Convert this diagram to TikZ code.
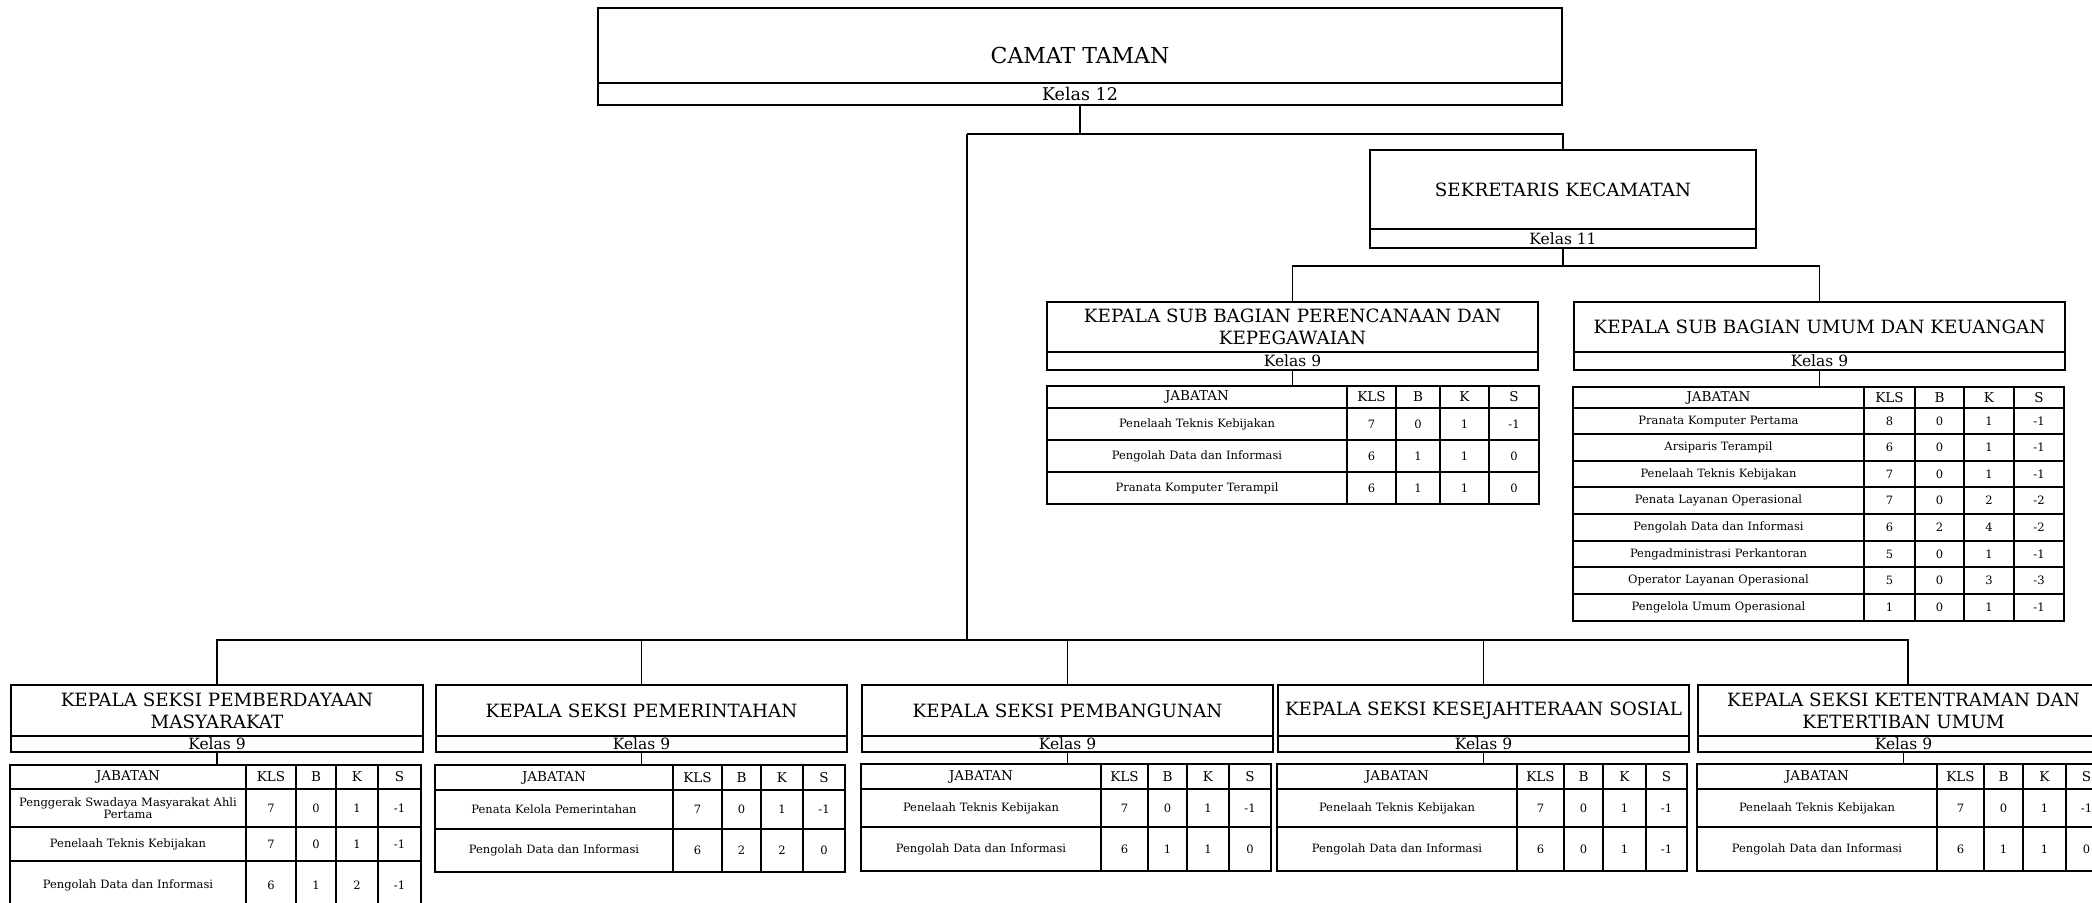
\documentclass[tikz,border=0pt]{standalone}
\usepackage{fontspec}
\setmainfont{DejaVu Serif}
\tikzset{
  titlebox/.style={draw, line width=1.4pt, inner sep=0pt, outer sep=0pt, align=center, font=\fontsize{18.3}{22}\selectfont},
  kelasbox/.style={draw, line width=1.4pt, inner sep=0pt, outer sep=0pt, font=\fontsize{15.5}{16}\selectfont},
  cell/.style={draw, line width=1.2pt, inner sep=0pt, outer sep=0pt, align=center, font=\fontsize{11.5}{12.5}\selectfont},
  conn/.style={line width=1.4pt},
}
\newcommand\hd{\fontsize{13.5}{14}\selectfont}
\newcommand\unitbox[8]{%
  \node[titlebox, minimum width={#3-#2}, minimum height={#5-#4}, anchor=north west] (#1) at (#2,#4) {#7};
  \node[kelasbox, minimum width={#3-#2}, minimum height={#6-#5}, anchor=north west] (#1-kls) at (#2,#5) {#8};
}
\newcommand\jtable[9]{%
  \foreach \yb/\vJ/\vL/\vB/\vK/\vS [count=\r, remember=\yb as \yt (initially #8)] in {#9}{%
    \pgfmathsetmacro\hh{\yb-\yt}%
    \pgfmathsetmacro\tw{#3-#2-6}%
    \node[cell, minimum width={#3-#2}, minimum height=\hh, text width=\tw pt, anchor=north west] (#1-\r-1) at (#2,\yt) {\vJ};
    \node[cell, minimum width={#4-#3}, minimum height=\hh, anchor=north west] (#1-\r-2) at (#3,\yt) {\vL};
    \node[cell, minimum width={#5-#4}, minimum height=\hh, anchor=north west] (#1-\r-3) at (#4,\yt) {\vB};
    \node[cell, minimum width={#6-#5}, minimum height=\hh, anchor=north west] (#1-\r-4) at (#5,\yt) {\vK};
    \node[cell, minimum width={#7-#6}, minimum height=\hh, anchor=north west] (#1-\r-5) at (#6,\yt) {\vS};
  }%
}
\begin{document}
\begin{tikzpicture}[x=1pt,y=-1pt]
\useasboundingbox (0,0) rectangle (2092,902);
\clip (0,0) rectangle (2092,902);
\fill[white] (0,0) rectangle (2092,902);

% CAMAT
\node[titlebox, font=\fontsize{22}{26}\selectfont, text height=35pt, text depth=0pt,
      minimum width=964, minimum height=75, anchor=north west] (camat) at (598,8) {CAMAT TAMAN};
\node[kelasbox, font=\fontsize{17.5}{18}\selectfont, minimum width=964, minimum height=22, anchor=north west] (camat-kls) at (598,83) {Kelas 12};

% Sekretaris and sub bagian
\unitbox{sekr}{1370}{1756}{150}{229}{248}{SEKRETARIS KECAMATAN}{Kelas 11}
\unitbox{sba}{1047}{1538}{302}{352}{370}{KEPALA SUB BAGIAN PERENCANAAN DAN\\KEPEGAWAIAN}{Kelas 9}
\unitbox{sbb}{1574}{2065}{302}{352}{370}{KEPALA SUB BAGIAN UMUM DAN KEUANGAN}{Kelas 9}

% Seksi
\unitbox{s1}{11}{423}{685}{736}{752}{KEPALA SEKSI PEMBERDAYAAN\\MASYARAKAT}{Kelas 9}
\unitbox{s2}{436}{847}{685}{736}{752}{KEPALA SEKSI PEMERINTAHAN}{Kelas 9}
\unitbox{s3}{862}{1273}{685}{736}{752}{KEPALA SEKSI PEMBANGUNAN}{Kelas 9}
\unitbox{s4}{1278}{1689}{685}{736}{752}{KEPALA SEKSI KESEJAHTERAAN SOSIAL}{Kelas 9}
\unitbox{s5}{1698}{2109}{685}{736}{752}{KEPALA SEKSI KETENTRAMAN DAN\\KETERTIBAN UMUM}{Kelas 9}

% Tables
\jtable{ta}{1047}{1347}{1396}{1440}{1489}{1539}{386}{%
  408/{\hd JABATAN}/{\hd KLS}/{\hd B}/{\hd K}/{\hd S},
  440/Penelaah Teknis Kebijakan/7/0/1/-1,
  472/Pengolah Data dan Informasi/6/1/1/0,
  504/Pranata Komputer Terampil/6/1/1/0}
\jtable{tb}{1573}{1864}{1915}{1964}{2014}{2064}{387}{%
  408/{\hd JABATAN}/{\hd KLS}/{\hd B}/{\hd K}/{\hd S},
  434/Pranata Komputer Pertama/8/0/1/-1,
  461/Arsiparis Terampil/6/0/1/-1,
  487/Penelaah Teknis Kebijakan/7/0/1/-1,
  514/Penata Layanan Operasional/7/0/2/-2,
  541/Pengolah Data dan Informasi/6/2/4/-2,
  567/Pengadministrasi Perkantoran/5/0/1/-1,
  594/Operator Layanan Operasional/5/0/3/-3,
  621/Pengelola Umum Operasional/1/0/1/-1}
\jtable{t1}{10}{246}{296}{336}{378}{421}{765}{%
  789/{\hd JABATAN}/{\hd KLS}/{\hd B}/{\hd K}/{\hd S},
  827/{Penggerak Swadaya Masyarakat Ahli\\Pertama}/7/0/1/-1,
  861/Penelaah Teknis Kebijakan/7/0/1/-1,
  909/Pengolah Data dan Informasi/6/1/2/-1}
\jtable{t2}{435}{673}{722}{761}{803}{845}{765}{%
  790/{\hd JABATAN}/{\hd KLS}/{\hd B}/{\hd K}/{\hd S},
  829/Penata Kelola Pemerintahan/7/0/1/-1,
  872/Pengolah Data dan Informasi/6/2/2/0}
\jtable{t3}{861}{1101}{1148}{1187}{1229}{1271}{764}{%
  789/{\hd JABATAN}/{\hd KLS}/{\hd B}/{\hd K}/{\hd S},
  827/Penelaah Teknis Kebijakan/7/0/1/-1,
  871/Pengolah Data dan Informasi/6/1/1/0}
\jtable{t4}{1277}{1517}{1564}{1603}{1646}{1687}{764}{%
  789/{\hd JABATAN}/{\hd KLS}/{\hd B}/{\hd K}/{\hd S},
  827/Penelaah Teknis Kebijakan/7/0/1/-1,
  871/Pengolah Data dan Informasi/6/0/1/-1}
\jtable{t5}{1697}{1937}{1984}{2023}{2066}{2107}{764}{%
  789/{\hd JABATAN}/{\hd KLS}/{\hd B}/{\hd K}/{\hd S},
  827/Penelaah Teknis Kebijakan/7/0/1/-1,
  871/Pengolah Data dan Informasi/6/1/1/0}

% Connectors
\coordinate (bus1) at (967,134);
\coordinate (bus2) at (967,640);
\coordinate (bus3) at (1563,266);
\coordinate (drop5) at (1908,685);
\draw[conn] (camat-kls.south) -- (camat-kls.south |- bus1);
\draw[conn] (bus1) -| (sekr.north);
\draw[conn] (bus1) -- (bus2);
\draw[conn] (s1.north) |- (bus2) -| (drop5);
\draw[conn] (s2.north) -- (s2.north |- bus2);
\draw[conn] (s3.north) -- (s3.north |- bus2);
\draw[conn] (s4.north) -- (s4.north |- bus2);
\draw[conn] (sekr-kls.south) -- (bus3);
\draw[conn] (sba.north) |- (bus3) -| (sbb.north);
\draw[conn] (sba-kls.south) -- (sba-kls.south |- ta-1-1.north);
\draw[conn] (sbb-kls.south) -- (sbb-kls.south |- tb-1-1.north);
\draw[conn] (s1-kls.south) -- (s1-kls.south |- t1-1-1.north);
\draw[conn] (s2-kls.south) -- (s2-kls.south |- t2-1-1.north);
\draw[conn] (s3-kls.south) -- (s3-kls.south |- t3-1-1.north);
\draw[conn] (s4-kls.south) -- (s4-kls.south |- t4-1-1.north);
\draw[conn] (s5-kls.south) -- (s5-kls.south |- t5-1-1.north);
\end{tikzpicture}
\end{document}
